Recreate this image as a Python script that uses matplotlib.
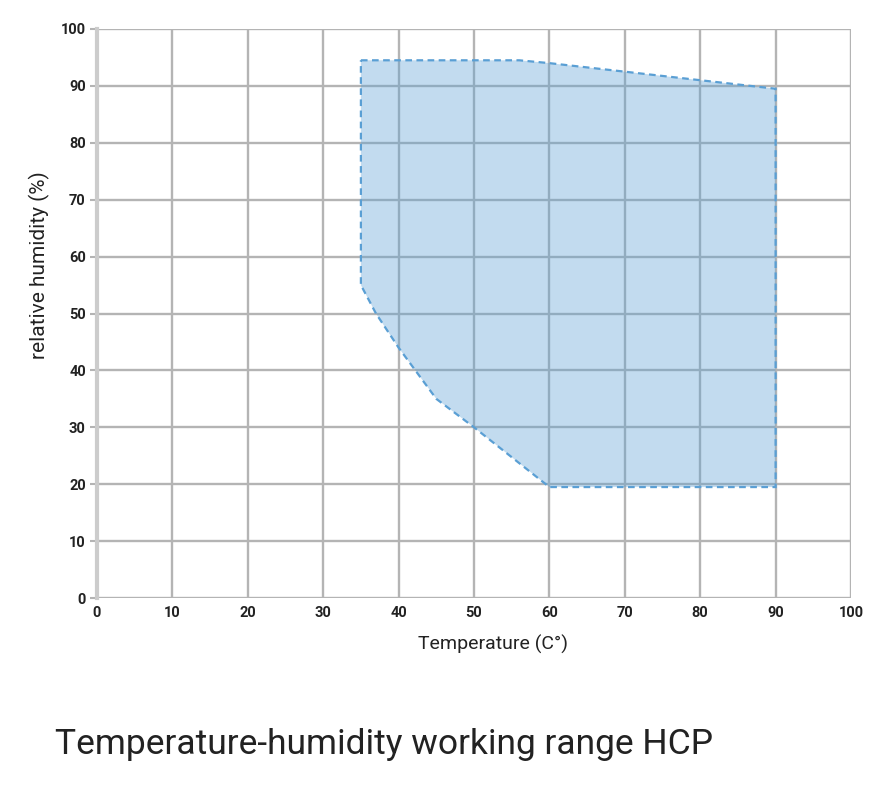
import matplotlib
matplotlib.use("Agg")
import matplotlib.pyplot as plt

# working range polygon (temperature in C, relative humidity in %)
temp_c = [35, 56, 60, 90, 90, 60, 50, 45, 40, 37, 35]
rel_hum = [94.5, 94.5, 94, 89.5, 19.5, 19.5, 30, 35, 44, 50, 55]

x_ticks = list(range(0, 101, 10))
y_ticks = list(range(0, 101, 10))

title = "Temperature-humidity working range HCP"
x_label = "Temperature (C°)"
y_label = "relative humidity (%)"

plt.rcParams["font.family"] = ["Roboto", "DejaVu Sans"]

fig = plt.figure(figsize=(8.93, 7.88), dpi=100)
ax = fig.add_axes([0.1086, 0.2411, 0.8444, 0.7221])

ax.fill(temp_c, rel_hum, facecolor="#5a9fd4", alpha=0.37, edgecolor="none", zorder=3)
ax.fill(temp_c, rel_hum, facecolor="none", edgecolor="#5a9fd4", lw=1.6,
        linestyle=(0, (3, 2)), zorder=4)

ax.set_xlim(0, 100)
ax.set_ylim(0, 100)
ax.set_xticks(x_ticks)
ax.set_yticks(y_ticks)
ax.grid(True, color="#b4b4b4", lw=1.7, zorder=1)
ax.set_axisbelow(True)
for side in ["top", "right", "bottom"]:
    ax.spines[side].set_visible(False)
ax.spines["left"].set_color("#cccccc")
ax.spines["left"].set_linewidth(3)
ax.tick_params(axis="y", length=5, width=1.5, color="#b4b4b4", pad=3)
ax.tick_params(axis="x", length=0, pad=6)
for lab in ax.get_xticklabels() + ax.get_yticklabels():
    lab.set_fontweight("bold")
    lab.set_fontsize(10.5)
    lab.set_color("#222222")

ax.set_xlabel(x_label, fontsize=14, color="#222222")
ax.set_ylabel(y_label, fontsize=15, color="#222222")
ax.xaxis.set_label_coords(0.525, -0.065)
ax.yaxis.set_label_coords(-0.062, 0.585)

fig.text(0.062, 0.043, title, fontsize=25.5, color="#222222", ha="left", va="baseline")

fig.savefig("out.png", dpi=100)
